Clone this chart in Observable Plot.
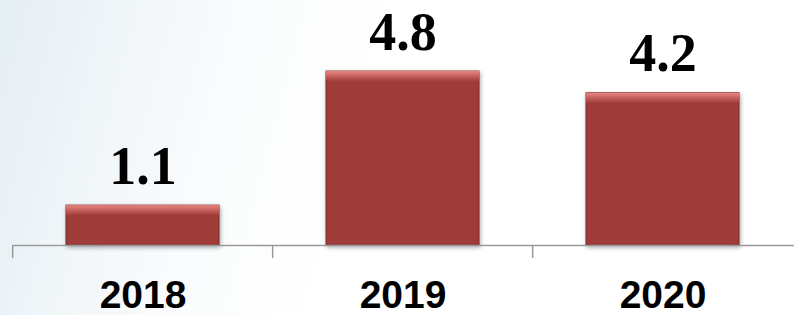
<!DOCTYPE html>
<html>
<head>
<meta charset="utf-8">
<script src="https://cdn.jsdelivr.net/npm/d3@7"></script>
<script src="https://cdn.jsdelivr.net/npm/@observablehq/plot@0.6"></script>
<style>
  html, body { margin: 0; padding: 0; }
  body {
    width: 794px; height: 315px; overflow: hidden;
    background:
      linear-gradient(105deg, rgba(225,236,243,0.9) 0%, rgba(236,243,247,0.8) 14%, rgba(246,249,251,0.6) 28%, rgba(255,255,255,0) 46%),
      #ffffff;
  }
  #chart svg { display: block; background: none; }
  .mainbars rect { filter: drop-shadow(1px 2px 2px rgba(0,0,0,0.35)); }
</style>
</head>
<body>
<svg width="0" height="0" style="position:absolute">
  <defs>
    <linearGradient id="topBevel" x1="0" y1="0" x2="0" y2="1">
      <stop offset="0" stop-color="#e88580"/>
      <stop offset="1" stop-color="#a23f3c"/>
    </linearGradient>
  </defs>
</svg>
<div id="chart"></div>
<script>
const years = ["2018", "2019", "2020"];
const values = [1.1, 4.8, 4.2];
const labels = ["1.1", "4.8", "4.2"];

const data = years.map((y, i) => ({year: y, value: values[i], label: labels[i]}));

const W = 794, H = 315;
const mL = 12, mR = 0;
const step = (W - mL - mR) / years.length;

const chart = Plot.plot({
  width: W,
  height: H,
  marginLeft: mL,
  marginRight: mR,
  marginTop: 0,
  marginBottom: 70,
  style: {background: "none", overflow: "visible"},
  x: {domain: years, paddingInner: 0.41, paddingOuter: 0.205, label: null},
  y: {domain: [0, 6.76], axis: null},
  marks: [
    Plot.barY(data, {x: "year", y: "value", fill: "#9f3b39", stroke: "#7e2c2b", strokeWidth: 1, className: "mainbars"}),
    Plot.barY(data, {x: "year", y1: "value", y2: "value", insetBottom: -10, fill: "url(#topBevel)"}),
    Plot.ruleY([0], {stroke: "#9a9a9a", strokeWidth: 1.5}),
    Plot.ruleX(years, {x: d => d, y1: 0, y2: 0, insetBottom: -13, dx: -step / 2, stroke: "#9a9a9a", strokeWidth: 1.5}),
    Plot.text(data, {x: "year", y: "value", text: "label", lineAnchor: "bottom", dy: -22,
      fontFamily: "'Liberation Serif', 'Times New Roman', serif", fontWeight: "bold", fontSize: 54, fill: "#000"}),
    Plot.axisX({tickSize: 0, tickPadding: 35, fontSize: 39, fontWeight: "bold",
      fontFamily: "'Liberation Sans', Arial, sans-serif", fill: "#000", label: null})
  ]
});
document.getElementById("chart").appendChild(chart);
</script>
</body>
</html>
